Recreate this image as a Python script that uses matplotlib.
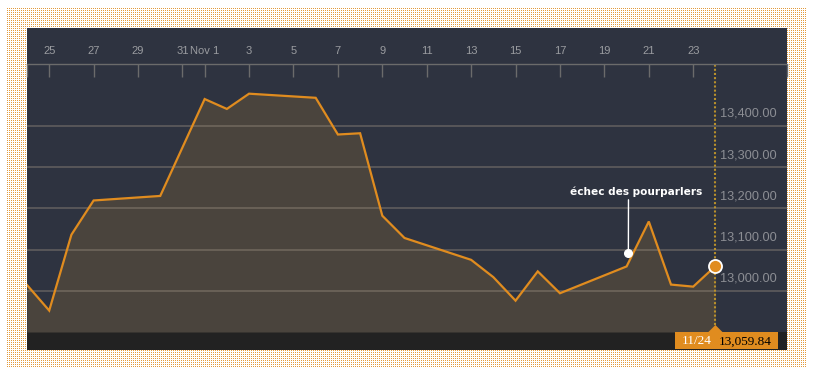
import matplotlib; matplotlib.use("Agg")
import matplotlib.pyplot as plt
import matplotlib.dates as mdates
import matplotlib.transforms as mtransforms
import numpy as np
from datetime import datetime
from matplotlib.patches import Rectangle, Polygon

# daily closes
dates = ["2012-10-24", "2012-10-25", "2012-10-26", "2012-10-27", "2012-10-30",
         "2012-11-01", "2012-11-02", "2012-11-03", "2012-11-06", "2012-11-07",
         "2012-11-08", "2012-11-09", "2012-11-10", "2012-11-13", "2012-11-14",
         "2012-11-15", "2012-11-16", "2012-11-17", "2012-11-20", "2012-11-21",
         "2012-11-22", "2012-11-23", "2012-11-24"]
closes = [13014, 12952, 13136, 13219, 13230,
          13465, 13441, 13478, 13468, 13379,
          13382, 13182, 13128, 13075, 13033,
          12976, 13047, 12994, 13059, 13168,
          13015, 13010, 13059.84]
tick_dates = ["2012-10-25", "2012-10-27", "2012-10-29", "2012-10-31", "2012-11-01",
              "2012-11-03", "2012-11-05", "2012-11-07", "2012-11-09", "2012-11-11",
              "2012-11-13", "2012-11-15", "2012-11-17", "2012-11-19", "2012-11-21",
              "2012-11-23"]
tick_labels = ["25", "27", "29", "31", "Nov 1", "3", "5", "7", "9", "11",
               "13", "15", "17", "19", "21", "23"]
price_levels = [13000, 13100, 13200, 13300, 13400]
note_text = "échec des pourparlers"
note_date, note_value = "2012-11-20", 13091

ORANGE = "#e08c1f"
FILL = "#4a443d"

W, H = 813, 375
fig = plt.figure(figsize=(W / 100, H / 100), dpi=100)

# backdrop: dotted frame (1px dots every 2px), dark panel, black footer bar
bg = np.full((H, W, 3), 255, dtype=np.uint8)
bg[8:368:2, 7:807:2] = (0xe3, 0x9b, 0x3c)
bg[28:350, 27:787] = (0x2e, 0x33, 0x40)
bg[332:350, 27:787] = (0x22, 0x22, 0x22)
fig.figimage(bg, 0, 0, origin="upper", zorder=-5, interpolation="nearest")

def box(l, t, r, b):
    return [l / W, 1 - b / H, (r - l) / W, (b - t) / H]

ax = fig.add_axes(box(27, 64, 787, 332))
ax.patch.set_alpha(0)

x = [mdates.date2num(datetime.strptime(d, "%Y-%m-%d")) for d in dates]
x0 = x[0]
ax.set_xlim(x0, x0 + 760 / 22.207)
ax.set_ylim(12900, 13550)

ax.fill_between(x, closes, 12900, color=FILL, lw=0, zorder=1)
for v in price_levels:
    ax.axhline(v, color="#9a8f80", alpha=0.45, lw=1.2, zorder=2)
    ax.annotate(f"{v:,.2f}", xy=(0.912, v), xycoords=("axes fraction", "data"),
                xytext=(0, 8.6), textcoords="offset points", ha="left", va="center",
                fontsize=9.2, color="#8c8e94", family="Liberation Sans")
ax.plot(x, closes, color=ORANGE, lw=1.6, zorder=3, solid_joinstyle="miter")

# cursor line on the last session
ax.axvline(x[-1], ymin=7 / 268, ymax=1, color="#b8902c", lw=1.5,
           ls=(0, (1, 1)), zorder=2)
ax.plot(x[-1], closes[-1], "o", ms=9.4, mfc=ORANGE, mec="white", mew=1.3,
        zorder=5, clip_on=False)

# annotation
nx = mdates.date2num(datetime.strptime(note_date, "%Y-%m-%d"))
ax.plot(nx + 0.08, note_value, "o", ms=5.5, color="white", zorder=5)
ax.annotate(note_text, xy=(nx + 0.08, note_value), xytext=(5.8, 40.5),
            textcoords="offset points", ha="center", va="bottom", color="white",
            fontsize=7.6, fontweight="bold", family="DejaVu Sans",
            arrowprops=dict(arrowstyle="-", color="white", lw=1, shrinkA=0, shrinkB=0,
                            relpos=(0.44, 0)))

# top date axis
tx = [mdates.date2num(datetime.strptime(d, "%Y-%m-%d")) for d in tick_dates]
ax.xaxis.tick_top()
ax.set_xticks(tx)
ax.set_xticklabels(tick_labels, family="Liberation Sans")
ax.set_xticks(list(ax.get_xlim()), minor=True)
ax.tick_params(axis="x", which="both", direction="in", length=9.4, width=1,
               color="#6b6b6b", labelcolor="#9a9ca0", labelsize=8, pad=5.5)
ax.set_yticks([])
for s in ["left", "right", "bottom"]:
    ax.spines[s].set_visible(False)
ax.spines["top"].set_color("#6b6b6b")
ax.spines["top"].set_linewidth(1)

# value tag in the footer bar
fig.canvas.draw()
xp = ax.transData.transform((x[-1], closes[-1]))[0]
ident = mtransforms.IdentityTransform()
yb = H - 349
fig.add_artist(Rectangle((xp - 40, yb), 103, 17, transform=ident, fc=ORANGE, ec="none", zorder=6))
fig.add_artist(Polygon([(xp - 7, H - 332), (xp + 7, H - 332), (xp, H - 325)],
                       closed=True, transform=ident, fc=ORANGE, ec="none", zorder=6))
fig.text((xp - 19) / W, 1 - 341.5 / H, "11/24", ha="center", va="center",
         color="white", fontsize=9.5, family="Liberation Serif", zorder=7)
fig.text((xp + 29.5) / W, 1 - 341.5 / H, f"{closes[-1]:,.2f}", ha="center", va="center",
         color="black", fontsize=9.5, family="Liberation Serif", zorder=7)

fig.savefig("out.png", dpi=100)
